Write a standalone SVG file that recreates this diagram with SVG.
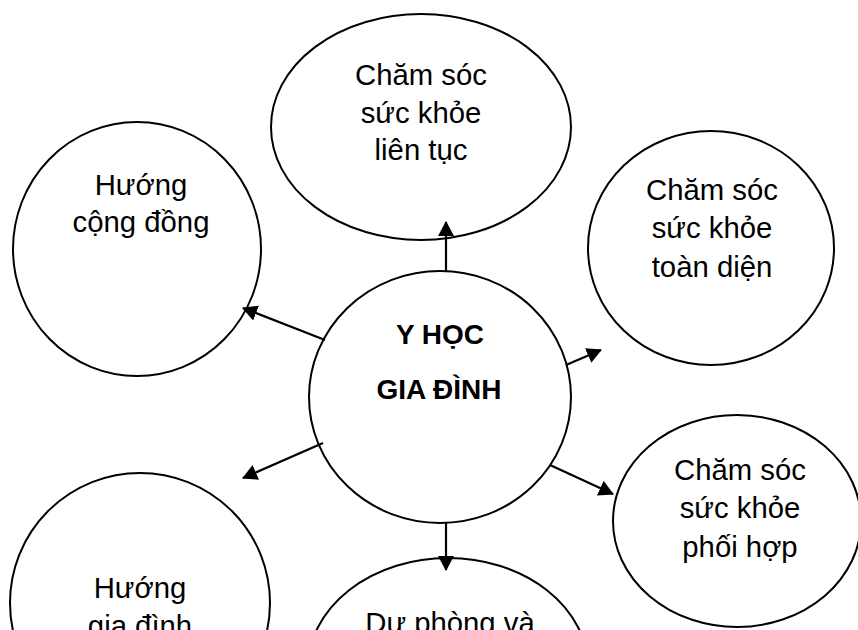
<svg xmlns="http://www.w3.org/2000/svg" width="858" height="630" viewBox="0 0 858 630">
  <style>
    .node { fill: #ffffff; stroke: #000000; stroke-width: 2; }
    .lbl { font-family: "Liberation Sans", Arial, sans-serif; font-size: 29.3px; fill: #000000; text-anchor: middle; }
    .hub { font-family: "Liberation Sans", Arial, sans-serif; font-size: 28px; font-weight: bold; fill: #000000; text-anchor: middle; }
    .link { stroke: #000000; stroke-width: 2.2; fill: none; marker-end: url(#head); }
  </style>
  <defs>
    <marker id="head" markerUnits="userSpaceOnUse" markerWidth="15" markerHeight="16" refX="14" refY="8" orient="auto">
      <path d="M0,0 L15,8 L0,16 Z" fill="#000000"/>
    </marker>
  </defs>
  <rect width="858" height="630" fill="#ffffff"/>

  <g id="lien-tuc">
    <ellipse class="node" cx="421" cy="127" rx="150" ry="113"/>
    <text class="lbl" x="421" y="85">Chăm sóc</text>
    <text class="lbl" x="421" y="123">sức khỏe</text>
    <text class="lbl" x="421" y="160">liên tục</text>
  </g>

  <g id="cong-dong">
    <ellipse class="node" cx="137" cy="249" rx="124" ry="127"/>
    <text class="lbl" x="141" y="195">Hướng</text>
    <text class="lbl" x="141" y="232">cộng đồng</text>
  </g>

  <g id="toan-dien">
    <ellipse class="node" cx="711" cy="248" rx="123" ry="117"/>
    <text class="lbl" x="712" y="200">Chăm sóc</text>
    <text class="lbl" x="712" y="238">sức khỏe</text>
    <text class="lbl" x="712" y="277">toàn diện</text>
  </g>

  <g id="phoi-hop">
    <ellipse class="node" cx="737" cy="521" rx="124" ry="106"/>
    <text class="lbl" x="740" y="480">Chăm sóc</text>
    <text class="lbl" x="740" y="518">sức khỏe</text>
    <text class="lbl" x="740" y="557">phối hợp</text>
  </g>

  <g id="gia-dinh">
    <ellipse class="node" cx="140" cy="603" rx="130" ry="130"/>
    <text class="lbl" x="140" y="598">Hướng</text>
    <text class="lbl" x="140" y="636">gia đình</text>
  </g>

  <g id="du-phong">
    <ellipse class="node" cx="448" cy="668" rx="140" ry="110"/>
    <text class="lbl" x="450" y="633">Dự phòng và</text>
  </g>

  <g id="y-hoc-gia-dinh">
    <ellipse class="node" cx="440" cy="397" rx="131" ry="126"/>
    <text class="hub" x="440" y="344">Y HỌC</text>
    <text class="hub" x="439" y="399">GIA ĐÌNH</text>
  </g>

  <g id="connectors">
    <line class="link" x1="446" y1="272" x2="446" y2="222"/>
    <line class="link" x1="325" y1="340" x2="243" y2="308"/>
    <line class="link" x1="323" y1="443" x2="243" y2="478"/>
    <line class="link" x1="566" y1="365" x2="601" y2="350"/>
    <line class="link" x1="550" y1="465" x2="613" y2="494"/>
    <line class="link" x1="446" y1="523" x2="446" y2="570"/>
  </g>
</svg>
